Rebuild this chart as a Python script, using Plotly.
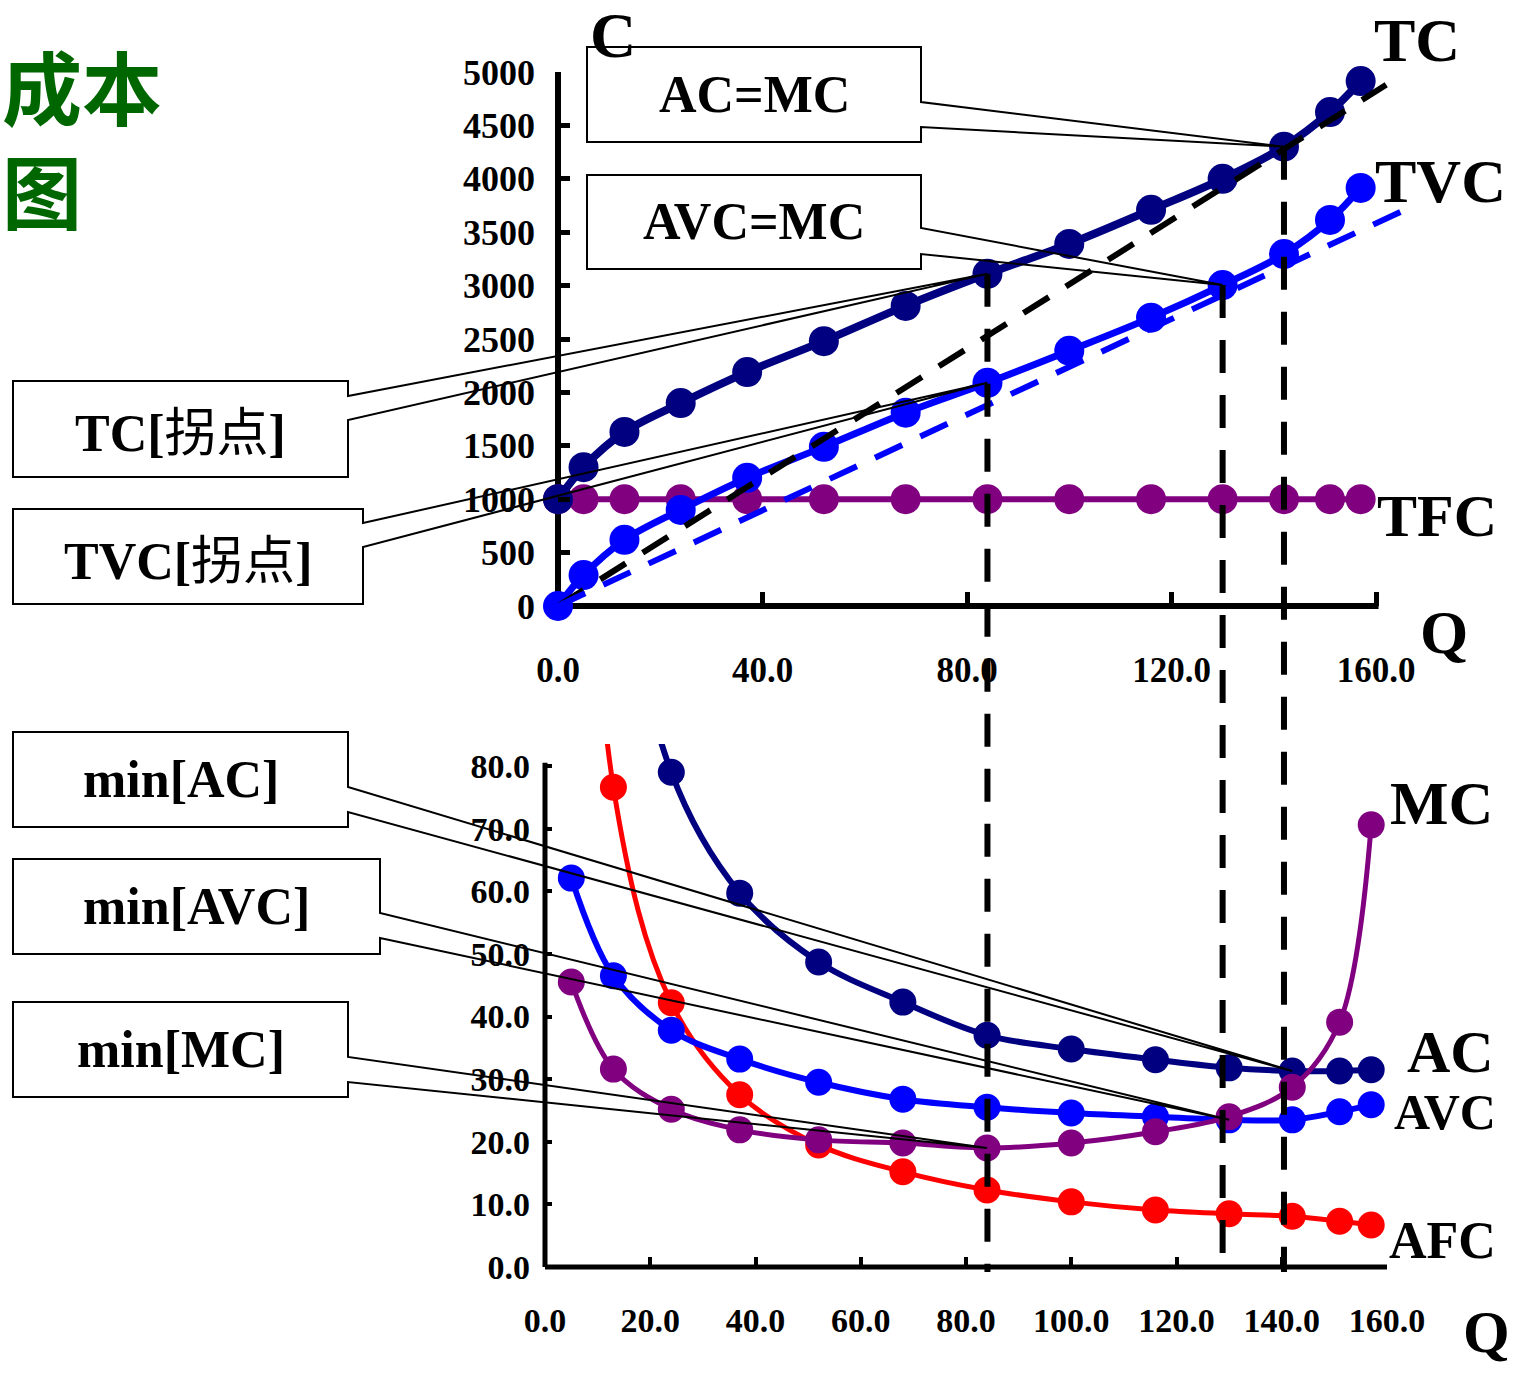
import plotly.graph_objects as go

W, H = 1514, 1373

# ---------------- data ----------------
Q_TOTAL = [0, 5, 13, 24, 37, 52, 68, 84, 100, 116, 130, 142, 151, 157]
TC = [1000, 1300, 1630, 1900, 2190, 2480, 2810, 3110, 3390, 3710, 4000, 4300, 4625, 4915]
TVC = [0, 290, 620, 900, 1200, 1490, 1810, 2090, 2390, 2700, 3005, 3295, 3615, 3915]
TFC = [1000, 1000, 1000, 1000, 1000, 1000, 1000, 1000, 1000, 1000, 1000, 1000, 1000, 1000]

Q_AVG = [5, 13, 24, 37, 52, 68, 84, 100, 116, 130, 142, 151, 157]
AFC = [200, 76.6, 42.2, 27.5, 19.5, 15.2, 12.3, 10.4, 9.1, 8.5, 8.1, 7.3, 6.7]
AC = [260, 125, 79.0, 59.7, 48.7, 42.3, 37.0, 34.8, 33.1, 31.8, 31.3, 31.3, 31.5]
AVC = [62.1, 46.5, 37.8, 33.2, 29.5, 26.8, 25.5, 24.6, 24.0, 23.5, 23.5, 24.8, 25.9]
MC = [45.5, 31.6, 25.2, 21.9, 20.3, 19.8, 19.0, 19.8, 21.6, 24.0, 28.7, 39.1, 70.6]

RAY_AC_Q = [0, 162]
RAY_AC_C = [0, 4880]
RAY_AVC_Q = [0, 167]
RAY_AVC_C = [0, 3740]

TOP_XTICKS = [0, 40, 80, 120, 160]
TOP_YTICKS = [0, 500, 1000, 1500, 2000, 2500, 3000, 3500, 4000, 4500, 5000]
BOT_XTICKS = [0, 20, 40, 60, 80, 100, 120, 140, 160]
BOT_YTICKS = [0, 10, 20, 30, 40, 50, 60, 70, 80]

# key indices: inflection (84), AVC min (130), AC min (142)
I_INFL, I_AVCMIN, I_ACMIN = 7, 10, 11

# ---------------- layout geometry ----------------
TOP_XR = [0, 168]
TOP_YR = [0, 5000]
BOT_XR = [0, 160]
BOT_YR = [0, 83.5]
top_xdom = [558 / W, (558 + 168 * 818 / 160) / W]
top_ydom = [1 - 606 / H, 1 - 72 / H]
bot_xdom = [545 / W, 1387 / W]
bot_ydom = [1 - 1267 / H, 1 - (1267 - 83.5 * 6.2625) / H]


def to_paper(v, rng, dom):
    return dom[0] + (v - rng[0]) / (rng[1] - rng[0]) * (dom[1] - dom[0])


def px(x):
    return x / W


def py(y):
    return 1 - y / H


NAVY, BLUE, PURPLE, RED = "#000080", "#0000FF", "#800080", "#FF0000"
SERIF = "Liberation Serif, Times New Roman, serif"

fig = go.Figure()

# ---- top chart traces ----
fig.add_trace(go.Scatter(x=Q_TOTAL, y=TFC, mode="lines+markers", line=dict(color=PURPLE, width=6),
                         marker=dict(size=30, color=PURPLE), cliponaxis=False, xaxis="x", yaxis="y"))
fig.add_trace(go.Scatter(x=Q_TOTAL, y=TVC, mode="lines+markers", line=dict(color=BLUE, width=7, shape="spline"),
                         marker=dict(size=30, color=BLUE), cliponaxis=False, xaxis="x", yaxis="y"))
fig.add_trace(go.Scatter(x=Q_TOTAL, y=TC, mode="lines+markers", line=dict(color=NAVY, width=8, shape="spline"),
                         marker=dict(size=30, color=NAVY), cliponaxis=False, xaxis="x", yaxis="y"))
fig.add_trace(go.Scatter(x=RAY_AC_Q, y=RAY_AC_C, mode="lines", line=dict(color="black", width=6, dash="30px,20px"),
                         xaxis="x", yaxis="y"))
fig.add_trace(go.Scatter(x=RAY_AVC_Q, y=RAY_AVC_C, mode="lines", line=dict(color=BLUE, width=6, dash="30px,20px"),
                         xaxis="x", yaxis="y"))

# ---- bottom chart traces ----
fig.add_trace(go.Scatter(x=Q_AVG, y=AFC, mode="lines+markers", line=dict(color=RED, width=5, shape="spline"),
                         marker=dict(size=27, color=RED), xaxis="x2", yaxis="y2"))
fig.add_trace(go.Scatter(x=Q_AVG, y=AVC, mode="lines+markers", line=dict(color=BLUE, width=6, shape="spline"),
                         marker=dict(size=27, color=BLUE), xaxis="x2", yaxis="y2"))
fig.add_trace(go.Scatter(x=Q_AVG, y=AC, mode="lines+markers", line=dict(color=NAVY, width=6, shape="spline"),
                         marker=dict(size=27, color=NAVY), xaxis="x2", yaxis="y2"))
fig.add_trace(go.Scatter(x=Q_AVG, y=MC, mode="lines+markers", line=dict(color=PURPLE, width=5, shape="spline"),
                         marker=dict(size=27, color=PURPLE), xaxis="x2", yaxis="y2"))

shapes = []
# axis lines (in paper coordinates so they are not clipped by the plot area)
tx0 = to_paper(0, TOP_XR, top_xdom)
ty0 = to_paper(0, TOP_YR, top_ydom)
shapes.append(dict(type="line", xref="paper", yref="paper", x0=tx0, x1=tx0, y0=ty0,
                   y1=to_paper(5000, TOP_YR, top_ydom), line=dict(color="black", width=6), layer="below"))
shapes.append(dict(type="line", xref="paper", yref="paper", x0=tx0, x1=to_paper(160.5, TOP_XR, top_xdom),
                   y0=ty0, y1=ty0, line=dict(color="black", width=6), layer="below"))
bx0 = to_paper(0, BOT_XR, bot_xdom)
by0 = to_paper(0, BOT_YR, bot_ydom)
shapes.append(dict(type="line", xref="paper", yref="paper", x0=bx0, x1=bx0, y0=by0,
                   y1=to_paper(80.5, BOT_YR, bot_ydom), line=dict(color="black", width=5), layer="below"))
shapes.append(dict(type="line", xref="paper", yref="paper", x0=bx0, x1=to_paper(160, BOT_XR, bot_xdom),
                   y0=by0, y1=by0, line=dict(color="black", width=5), layer="below"))

# vertical dashed guide lines
vl_bottom = py(1272)
for idx, series in ((I_INFL, TC), (I_AVCMIN, TVC), (I_ACMIN, TC)):
    qv = to_paper(Q_TOTAL[idx], TOP_XR, top_xdom)
    ytop = to_paper(series[idx], TOP_YR, top_ydom)
    shapes.append(dict(type="line", xref="paper", yref="paper", x0=qv, x1=qv, y0=ytop, y1=vl_bottom,
                       line=dict(color="black", width=6, dash="33px,22px")))

annotations = []


def callout(l, t, r, b, g1, g2, tip, text):
    tx, ty = tip
    L, R, T, B = px(l), px(r), py(t), py(b)
    G1, G2 = py(g1), py(g2)
    path = (f"M{tx},{ty} L{R},{G1} L{R},{T} L{L},{T} L{L},{B} L{R},{B} L{R},{G2} L{tx},{ty}")
    shapes.append(dict(type="path", xref="paper", yref="paper", path=path,
                       line=dict(color="black", width=2), fillcolor="rgba(0,0,0,0)"))
    annotations.append(dict(xref="paper", yref="paper", x=px((l + r) / 2), y=py((t + b) / 2),
                            text=text, showarrow=False, xanchor="center", yanchor="middle",
                            font=dict(family=SERIF, size=52, color="black", weight="bold")))


def top_tip(i, series):
    return (to_paper(Q_TOTAL[i], TOP_XR, top_xdom), to_paper(series[i], TOP_YR, top_ydom))


def bot_tip(i, series):
    j = Q_AVG.index(Q_TOTAL[i])
    return (to_paper(Q_AVG[j], BOT_XR, bot_xdom), to_paper(series[j], BOT_YR, bot_ydom))


CJK = "<span style='font-family:Noto Sans CJK SC;font-weight:normal'>拐点</span>"
callout(587, 47, 921, 142, 102, 127, top_tip(I_ACMIN, TC), "AC=MC")
callout(587, 175, 921, 269, 228, 254, top_tip(I_AVCMIN, TVC), "AVC=MC")
callout(13, 381, 348, 477, 396, 420, top_tip(I_INFL, TC), "TC[" + CJK + "]")
callout(13, 509, 363, 604, 523, 547, top_tip(I_INFL, TVC), "TVC[" + CJK + "]")
callout(13, 732, 348, 827, 787, 812, bot_tip(I_ACMIN, AC), "min[AC]")
callout(13, 859, 380, 954, 913, 938, bot_tip(I_AVCMIN, AVC), "min[AVC]")
callout(13, 1002, 348, 1097, 1057, 1082, bot_tip(I_INFL, MC), "min[MC]")

# curve / axis labels
for text, x, y, size, anchor in [("C", 613, 36, 64, "center"), ("TC", 1417, 40, 62, "center"),
                                 ("TVC", 1440, 181, 62, "center"), ("TFC", 1437, 516, 60, "center"),
                                 ("Q", 1444, 632, 62, "center"), ("MC", 1441, 803, 62, "center"),
                                 ("AC", 1450, 1052, 60, "center"), ("AVC", 1445, 1112, 50, "center"),
                                 ("AFC", 1442, 1240, 52, "center"), ("Q", 1512, 1332, 60, "right")]:
    annotations.append(dict(xref="paper", yref="paper", x=px(x), y=py(y), text=text, showarrow=False,
                            xanchor=anchor, yanchor="middle",
                            font=dict(family=SERIF, size=size, color="black", weight="bold")))

GREEN = "#006600"
annotations.append(dict(xref="paper", yref="paper", x=0, y=py(24), text="成本<br>图", showarrow=False,
                        xanchor="left", yanchor="top", align="left",
                        font=dict(family="Noto Sans CJK SC", size=80, color=GREEN, weight="bold")))

axis_common = dict(showgrid=False, zeroline=False, showline=False, ticks="inside", tickcolor="black",
                   automargin=False)

fig.update_layout(
    width=W, height=H, margin=dict(l=0, r=0, t=0, b=0, pad=0, autoexpand=False), autosize=False,
    paper_bgcolor="white", plot_bgcolor="rgba(0,0,0,0)", showlegend=False,
    xaxis=dict(domain=top_xdom, range=TOP_XR, anchor="y", tickvals=TOP_XTICKS,
               ticktext=[f"{v:.1f}" for v in TOP_XTICKS], ticklen=14, tickwidth=5,
               ticklabelstandoff=40,
               tickfont=dict(family=SERIF, size=35, color="black", weight="bold"), **axis_common),
    yaxis=dict(domain=top_ydom, range=TOP_YR, anchor="x", tickvals=TOP_YTICKS,
               ticktext=[f"{v}" for v in TOP_YTICKS], ticklen=12, tickwidth=5,
               ticklabelstandoff=22,
               tickfont=dict(family=SERIF, size=36, color="black", weight="bold"), **axis_common),
    xaxis2=dict(domain=bot_xdom, range=BOT_XR, anchor="y2", tickvals=BOT_XTICKS,
                ticktext=[f"{v:.1f}" for v in BOT_XTICKS], ticklen=10, tickwidth=4,
                ticklabelstandoff=30,
                tickfont=dict(family=SERIF, size=34, color="black", weight="bold"), **axis_common),
    yaxis2=dict(domain=bot_ydom, range=BOT_YR, anchor="x2", tickvals=BOT_YTICKS,
                ticktext=[f"{v:.1f}" for v in BOT_YTICKS], ticklen=7, tickwidth=4,
                ticklabelstandoff=14,
                tickfont=dict(family=SERIF, size=34, color="black", weight="bold"), **axis_common),
    shapes=shapes, annotations=annotations,
)

fig.write_html("out.html", config={"responsive": False, "displayModeBar": False},
               post_script="document.body.style.margin='0';document.body.style.overflow='hidden';")
